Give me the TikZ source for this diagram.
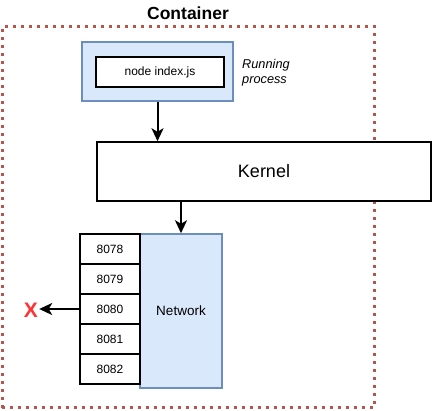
\documentclass[tikz,border=0pt]{standalone}
\usepackage{fontspec}
\setmainfont{Liberation Sans}
\usetikzlibrary{arrows.meta}
\definecolor{cred}{HTML}{B85450}
\definecolor{bfill}{HTML}{DAE8FC}
\definecolor{bdraw}{HTML}{6C8EBF}
\definecolor{xred}{HTML}{FF3333}
\tikzset{
  box/.style={draw=black, line width=1.5pt, fill=white, inner sep=0pt, font=\fontsize{12}{14}\selectfont},
  bluebox/.style={draw=bdraw, line width=1.5pt, fill=bfill, inner sep=0pt},
  port/.style={box, minimum width=60pt, minimum height=30pt},
  arr/.style={line width=2pt, -{Stealth[length=13pt,width=12pt,inset=3.5pt]}},
}
\begin{document}
\begin{tikzpicture}[x=1pt,y=-1pt]
\useasboundingbox (0,0) rectangle (433,410);
\node[draw=cred, line width=3pt, dash pattern=on 3pt off 5pt, minimum width=372pt, minimum height=381.5pt, inner sep=0pt] (cont) at (188.3,217) {};
\node[font=\bfseries\fontsize{17.5}{20}\selectfont] (title) at (188,13) {Container};
\node[bluebox, minimum width=151pt, minimum height=59pt] (proc) at (157.5,71.5) {};
\node[box, minimum width=128pt, minimum height=30pt] (cmd) at (160,72) {node index.js};
\node[anchor=west, align=left, inner sep=0pt, font=\itshape\fontsize{12.75}{15}\selectfont] (run) at (242,72.5) {Running\\process};
\node[box, minimum width=334pt, minimum height=59pt, font=\fontsize{18}{21}\selectfont] (kernel) at (264,171.5) {Kernel};
\node[bluebox, minimum width=82pt, minimum height=154pt, font=\fontsize{13.5}{16}\selectfont] (net) at (181,311) {Network};
\node[port] (p8078) at (110,249) {8078};
\node[port] (p8079) at (110,279) {8079};
\node[port] (p8080) at (110,309) {8080};
\node[port] (p8081) at (110,339) {8081};
\node[port] (p8082) at (110,369) {8082};
\node[text=xred, font=\bfseries\fontsize{21}{24}\selectfont, inner sep=1pt] (x) at (31,310.5) {X};
\draw[arr] (proc.south) -- (proc.south |- kernel.north);
\draw[arr] (kernel.south -| net.north) -- (net.north);
\draw[arr] (p8080.west) -- (p8080.west -| x.east);
\end{tikzpicture}
\end{document}
